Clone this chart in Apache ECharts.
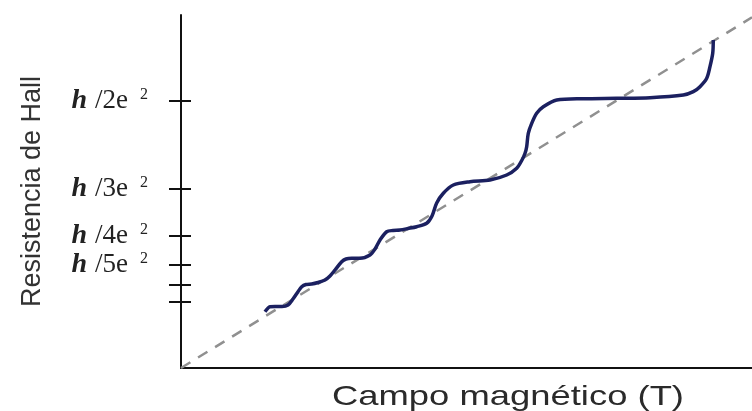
<!DOCTYPE html>
<html>
<head>
<meta charset="utf-8">
<script src="https://cdn.jsdelivr.net/npm/echarts@6/dist/echarts.min.js"></script>
<style>html,body{margin:0;padding:0;background:#fff}#c{width:752px;height:411px}</style>
</head>
<body>
<div id="c"></div>
<script>
// Magnetic field (arbitrary units, 0-10)
const fieldB = [1.471,1.559,1.646,1.769,1.874,1.961,2.049,2.114,2.189,2.289,2.399,2.522,2.609,2.697,2.814,2.890,2.989,3.135,3.310,3.398,3.485,3.602,3.713,3.835,3.975,4.128,4.303,4.396,4.478,4.594,4.769,5.061,5.412,5.704,5.879,5.972,6.025,6.054,6.082,6.142,6.229,6.345,6.580,7.040,7.630,8.214,8.797,8.972,9.089,9.207,9.264,9.312,9.322];
// Hall resistance (units of h/e^2)
const hallR = [0.1054,0.1148,0.1152,0.1152,0.1180,0.1292,0.1429,0.1522,0.1564,0.1573,0.1601,0.1648,0.1723,0.1835,0.1991,0.2041,0.2054,0.2054,0.2116,0.2228,0.2397,0.2552,0.2575,0.2584,0.2612,0.2646,0.2710,0.2846,0.3090,0.3272,0.3427,0.3489,0.3521,0.3614,0.3740,0.3895,0.4021,0.4144,0.4395,0.4582,0.4770,0.4893,0.5019,0.5043,0.5051,0.5062,0.5112,0.5174,0.5268,0.5425,0.5642,0.5893,0.6142];
// Classical Hall line (dashed)
const classicalB = [0, 10];
const classicalR = [0, 0.6566];
// Y-axis tick positions and their plateau indices (h/νe²)
const tickValues = [0.5, 0.3352, 0.2472, 0.1929, 0.1567, 0.1242];
const tickNu = ['2', '3', '4', '5', '', ''];
const xTitle = 'Campo magnético (T)';
const yTitle = 'Resistencia de Hall';

const chart = echarts.init(document.getElementById('c'));
const hallData = fieldB.map((b, i) => [b, hallR[i]]);
const classicalData = classicalB.map((b, i) => [b, classicalR[i]]);

chart.setOption({
  animation: false,
  backgroundColor: '#fff',
  grid: { left: 181, right: 0, top: 15, bottom: 43, containLabel: false },
  graphic: [{
    type: 'text',
    x: 332, y: 383,
    scaleX: 1.3,
    style: { text: xTitle, x: 0, y: 0, fontFamily: 'Liberation Sans', fontSize: 28, fill: '#2a2a2a', verticalAlign: 'top', align: 'left' }
  }],
  xAxis: {
    type: 'value', min: 0, max: 10,
    axisLine: { show: true, lineStyle: { color: '#111', width: 2 } },
    axisTick: { show: false },
    axisLabel: { show: false },
    splitLine: { show: false }
  },
  yAxis: [{
    type: 'value', min: 0, max: 0.661,
    name: yTitle,
    nameLocation: 'middle',
    nameGap: 135,
    nameRotate: 90,
    nameTextStyle: { fontFamily: 'Liberation Sans', fontSize: 27, color: '#333' },
    axisLine: { show: true, lineStyle: { color: '#111', width: 2 } },
    axisTick: { show: true, length: 12, lineStyle: { color: '#111', width: 2 }, customValues: tickValues },
    axisLabel: {
      show: true, margin: 33, customValues: tickValues,
      formatter: function (v) {
        const i = tickValues.findIndex(t => Math.abs(t - v) < 1e-6);
        if (i < 0 || !tickNu[i]) return '';
        return '{h|h}{r|/' + tickNu[i] + 'e}{s|2}';
      },
      rich: {
        h: { fontFamily: 'Liberation Serif', fontStyle: 'italic', fontWeight: 'bold', fontSize: 28, color: '#222' },
        r: { fontFamily: 'Liberation Serif', fontSize: 27, color: '#222', padding: [0, 0, 0, 8] },
        s: { fontFamily: 'Liberation Serif', fontSize: 16, color: '#222', verticalAlign: 'top', padding: [0, 0, 0, 12] }
      }
    },
    splitLine: { show: false }
  }, {
    type: 'value', min: 0, max: 0.661, position: 'left',
    axisLine: { show: false },
    axisTick: { show: true, inside: true, length: 10, lineStyle: { color: '#111', width: 2 }, customValues: tickValues },
    axisLabel: { show: false },
    splitLine: { show: false }
  }],
  series: [{
    type: 'line',
    data: classicalData,
    symbol: 'none',
    lineStyle: { color: '#909090', width: 2.5, type: [11, 9] },
    z: 1
  }, {
    type: 'line',
    data: hallData,
    symbol: 'none',
    smooth: 0.3,
    lineStyle: { color: '#1b2060', width: 3.5 },
    z: 2
  }]
});
</script>
</body>
</html>
